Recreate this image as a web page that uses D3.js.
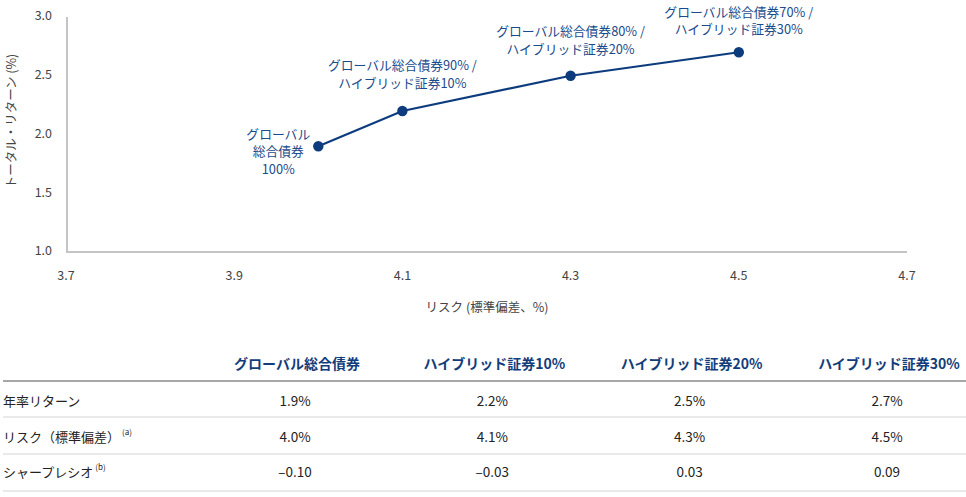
<!DOCTYPE html>
<html>
<head>
<meta charset="utf-8">
<script src="https://cdn.jsdelivr.net/npm/d3@7"></script>
<style>
  body { margin: 0; background: #fff; }
  svg text { font-family: "Noto Sans CJK JP", "Noto Sans", sans-serif; }
</style>
</head>
<body>
<script>
// chart data
var seriesNames = ["グローバル総合債券", "ハイブリッド証券10%", "ハイブリッド証券20%", "ハイブリッド証券30%"];
var risk = [4.0, 4.1, 4.3, 4.5];
var annualReturn = [1.9, 2.2, 2.5, 2.7];
var sharpe = [-0.10, -0.03, 0.03, 0.09];
var pointLabels = [
  ["グローバル", "総合債券", "100%"],
  ["グローバル総合債券90% /", "ハイブリッド証券10%"],
  ["グローバル総合債券80% /", "ハイブリッド証券20%"],
  ["グローバル総合債券70% /", "ハイブリッド証券30%"]
];
var xTicks = [3.7, 3.9, 4.1, 4.3, 4.5, 4.7];
var yTicks = [1.0, 1.5, 2.0, 2.5, 3.0];
var rowLabels = ["年率リターン", "リスク（標準偏差）", "シャープレシオ"];
var rowNotes = ["", "(a)", "(b)"];

var W = 966, H = 497;
var navy = "#0d3c7e";

var svg = d3.select("body").append("svg")
    .attr("width", W)
    .attr("height", H);

// scales
var x = d3.scaleLinear().domain([3.7, 4.7]).range([66, 907]);
var y = d3.scaleLinear().domain([1.0, 3.0]).range([252, 17]);

// axes lines
svg.append("line")
  .attr("x1", x(3.7) + 1).attr("x2", x(3.7) + 1)
  .attr("y1", y(3.0)).attr("y2", y(1.0) + 1)
  .attr("stroke", "#c4c4c4").attr("stroke-width", 2);
svg.append("line")
  .attr("x1", x(3.7)).attr("x2", x(4.7))
  .attr("y1", y(1.0)).attr("y2", y(1.0))
  .attr("stroke", "#c4c4c4").attr("stroke-width", 2);

// tick labels
svg.selectAll(".ytick").data(yTicks).enter().append("text")
  .attr("x", 52)
  .attr("y", function(d) { return y(d); })
  .attr("text-anchor", "end")
  .attr("dominant-baseline", "middle")
  .style("font-size", "12.5px")
  .style("fill", "#444")
  .text(function(d) { return d3.format(".1f")(d); });

svg.selectAll(".xtick").data(xTicks).enter().append("text")
  .attr("x", function(d) { return x(d); })
  .attr("y", 277)
  .attr("text-anchor", "middle")
  .attr("dominant-baseline", "middle")
  .style("font-size", "12.5px")
  .style("fill", "#444")
  .text(function(d) { return d3.format(".1f")(d); });

// axis titles
svg.append("text")
  .attr("transform", "translate(13," + 121 + ") rotate(-90)")
  .attr("text-anchor", "middle")
  .attr("dominant-baseline", "middle")
  .style("font-size", "12.5px")
  .style("fill", "#444")
  .text("トータル・リターン (%)");

svg.append("text")
  .attr("x", 487)
  .attr("y", 309)
  .attr("text-anchor", "middle")
  .attr("dominant-baseline", "middle")
  .style("font-size", "12.5px")
  .style("fill", "#444")
  .text("リスク (標準偏差、%)");

// line + points
var pts = risk.map(function(r, i) { return [r, annualReturn[i]]; });

svg.append("path")
  .datum(pts)
  .attr("d", d3.line()
    .x(function(d) { return x(d[0]); })
    .y(function(d) { return y(d[1]); }))
  .attr("fill", "none")
  .attr("stroke", navy)
  .attr("stroke-width", 2.2);

svg.selectAll(".pt").data(pts).enter().append("circle")
  .attr("cx", function(d) { return x(d[0]); })
  .attr("cy", function(d) { return y(d[1]); })
  .attr("r", 5.2)
  .attr("fill", navy);

// point labels
var labelDx = [-40, 0, 0, 0];
var labelDy = [-11, -44, -43, -39];
var lineGap = 17.5;

pts.forEach(function(d, i) {
  var t = svg.append("text")
    .attr("text-anchor", "middle")
    .style("font-size", "12.8px")
    .style("fill", "#1a4b8c");
  pointLabels[i].forEach(function(s, j) {
    t.append("tspan")
      .attr("x", x(d[0]) + labelDx[i])
      .attr("y", y(d[1]) + labelDy[i] + j * lineGap)
      .attr("dominant-baseline", "middle")
      .text(s);
  });
});

// table
var colX = d3.scalePoint().domain(d3.range(4)).range([295, 887]);
var headerY = 365;
var rowY = [402, 438, 473];
var rowLines = [417, 454, 491];

svg.selectAll(".hdr").data(seriesNames).enter().append("text")
  .attr("x", function(d, i) { return colX(i) + 2; })
  .attr("y", headerY)
  .attr("text-anchor", "middle")
  .attr("dominant-baseline", "middle")
  .style("font-size", "14px")
  .style("font-weight", "bold")
  .style("fill", "#133d7a")
  .text(function(d) { return d; });

svg.append("line")
  .attr("x1", 3).attr("x2", W)
  .attr("y1", 381).attr("y2", 381)
  .attr("stroke", "#8a8a8a").attr("stroke-width", 1.5);

svg.selectAll(".rline").data(rowLines).enter().append("line")
  .attr("x1", 3).attr("x2", W)
  .attr("y1", function(d) { return d; })
  .attr("y2", function(d) { return d; })
  .attr("stroke", "#d4d4d4").attr("stroke-width", 1);

rowLabels.forEach(function(lbl, i) {
  var t = svg.append("text")
    .attr("x", 3)
    .attr("y", rowY[i])
    .attr("dominant-baseline", "middle")
    .style("font-size", "13px")
    .style("fill", "#222");
  t.append("tspan").text(lbl);
  if (rowNotes[i]) {
    t.append("tspan")
      .attr("dx", 2)
      .attr("dy", -5)
      .style("font-size", "8px")
      .text(rowNotes[i]);
  }
});

var pct = function(v) { return d3.format(".1f")(v) + "%"; };
var sh = function(v) { return (v < 0 ? "–" : "") + d3.format(".2f")(Math.abs(v)); };
var rows = [annualReturn.map(pct), risk.map(pct), sharpe.map(sh)];

rows.forEach(function(vals, r) {
  svg.selectAll(".v" + r).data(vals).enter().append("text")
    .attr("x", function(d, i) { return colX(i); })
    .attr("y", rowY[r])
    .attr("text-anchor", "middle")
    .attr("dominant-baseline", "middle")
    .style("font-size", "13.5px")
    .style("fill", "#222")
    .text(function(d) { return d; });
});
</script>
</body>
</html>
